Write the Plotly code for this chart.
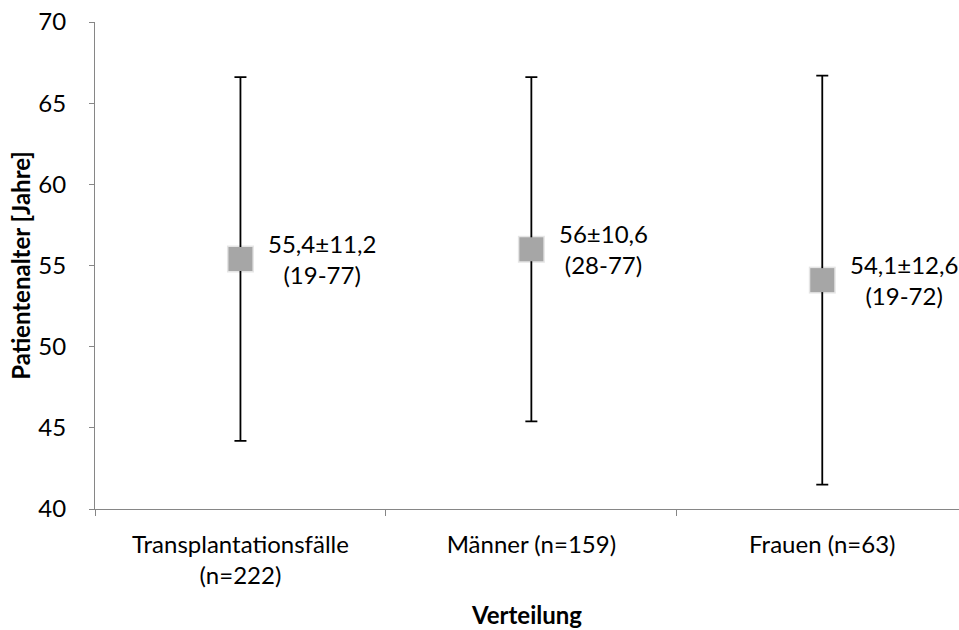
import plotly.graph_objects as go

# Patient age by group: mean, standard deviation and range
categories = ["Transplantationsfälle<br>(n=222)", "Männer (n=159)", "Frauen (n=63)"]
means = [55.4, 56.0, 54.1]
sds = [11.2, 10.6, 12.6]
labels = ["55,4±11,2<br>(19-77)", "56±10,6<br>(28-77)", "54,1±12,6<br>(19-72)"]

FONT = "Lato"
SIZE = 24

fig = go.Figure()

# soft shadow behind the square markers
fig.add_trace(go.Scatter(
    x=categories, y=means, mode="markers",
    marker=dict(symbol="square", size=27, color="rgba(0,0,0,0.10)", line=dict(width=0)),
    hoverinfo="skip", showlegend=False,
))

fig.add_trace(go.Scatter(
    x=categories, y=means, mode="markers",
    marker=dict(symbol="square", size=24, color="#a6a6a6", line=dict(width=0)),
    error_y=dict(type="data", array=sds, symmetric=True, color="black", thickness=1.8, width=6),
    showlegend=False,
))

for cat, m, txt in zip(categories, means, labels):
    fig.add_annotation(
        x=cat, y=m, text=txt, showarrow=False,
        xanchor="left", yanchor="middle", xshift=26, align="center",
        font=dict(family=FONT, size=SIZE, color="black"),
    )

fig.update_layout(
    width=959, height=630,
    margin=dict(l=95, r=0, t=22, b=121),
    paper_bgcolor="white", plot_bgcolor="white",
    font=dict(family=FONT, size=SIZE, color="black"),
)

fig.update_xaxes(
    type="category", range=[-0.5, 2.47],
    showline=True, linecolor="#868686", linewidth=1,
    ticks="outside", tickson="boundaries", ticklen=6, tickcolor="#868686",
    ticklabelstandoff=14,
    showgrid=False, zeroline=False,
    tickfont=dict(family=FONT, size=SIZE),
    title=dict(text="<b>Verteilung</b>", font=dict(family=FONT, size=24), standoff=19),
)

fig.update_yaxes(
    range=[40, 70], dtick=5, tick0=40,
    showline=True, linecolor="#868686", linewidth=1,
    ticks="outside", ticklen=5, tickcolor="#868686",
    ticklabelstandoff=18,
    showgrid=False, zeroline=False,
    tickfont=dict(family=FONT, size=SIZE),
    title=dict(text="<b>Patientenalter [Jahre]</b>", font=dict(family=FONT, size=24), standoff=0),
)

fig.write_html("out.html")
